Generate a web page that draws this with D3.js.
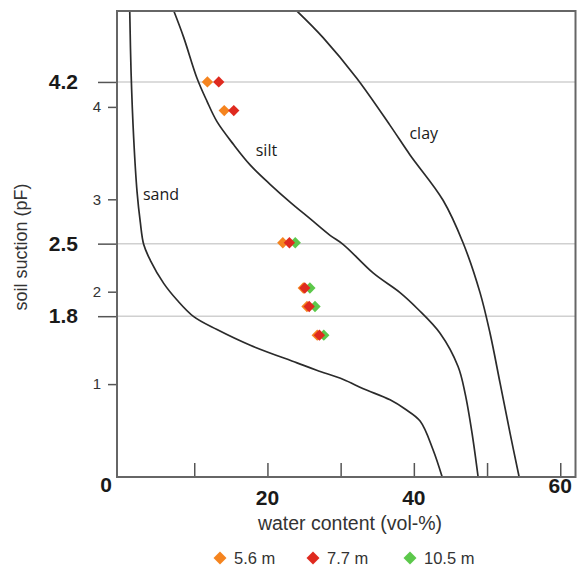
<!DOCTYPE html>
<html>
<head>
<meta charset="utf-8">
<script src="https://cdn.jsdelivr.net/npm/d3@7"></script>
<style>
  body { margin: 0; background: #fff; }
  text { font-family: "Liberation Sans", Arial, sans-serif; }
</style>
</head>
<body>
<div id="chart"></div>
<script>
// water retention curves: [water content (vol-%), suction (pF)]
var sand = [[1.19,5.04],[1.37,4.38],[1.73,3.66],[2.19,3.08],[2.62,2.76],[3.10,2.51],[4.00,2.34],
  [5.83,2.09],[7.65,1.91],[9.93,1.73],[13.11,1.59],[17.66,1.42],[24.04,1.23],[26.73,1.15],
  [30.37,1.05],[33.10,0.95],[36.75,0.83],[38.80,0.73],[40.85,0.60],[42.62,0.29],[43.85,0]];
var silt = [[7.20,5.04],[8.57,4.75],[10.38,4.31],[11.75,4.06],[13.11,3.84],[15.40,3.59],[17.66,3.37],
  [20.40,3.16],[23.09,2.97],[25.82,2.79],[28.55,2.61],[30.37,2.51],[34.47,2.20],[38.11,1.99],
  [40.57,1.81],[43.58,1.55],[46.04,1.19],[47.00,0.90],[47.95,0.47],[48.77,0]];
var clay = [[24.0,5.04],[27.6,4.75],[32.2,4.31],[36.75,3.80],[39.48,3.48],[43.99,2.99],[46.72,2.53],
  [49.04,1.99],[50.41,1.55],[51.78,1.01],[53.14,0.47],[54.37,0]];
var curveNames = ['sand', 'silt', 'clay'];

// measured points per depth
var depths = ['5.6 m', '7.7 m', '10.5 m'];
var suction = [4.27, 3.96, 2.53, 2.04, 1.84, 1.53];
var wc_56 = [11.8, 14.1, 22.1, 24.9, 25.4, 26.8];
var wc_77 = [13.35, 15.4, 23.0, 25.1, 25.7, 27.1];
var wc_105 = [null, null, 23.8, 25.8, 26.5, 27.7];

var yTicks = [1, 2, 3, 4];
var refLines = [4.27, 2.52, 1.735];
var refLabels = ['4.2', '2.5', '1.8'];
var xTicks = [10, 20, 30, 40, 50, 60];
var xLabels = [20, 40, 60];

var W = 577, H = 567;
var L = 117, R = 575.5, T = 11, B = 477;

var x = d3.scaleLinear().domain([-0.55, 62.15]).range([117, 576]);
var y = d3.scaleLinear().domain([0, 5.04]).range([476.5, 10.8]);

var svg = d3.select('#chart').append('svg').attr('width', W).attr('height', H);

svg.append('clipPath').attr('id', 'clip')
  .append('rect').attr('x', L).attr('y', T).attr('width', R - L).attr('height', B - T);

// reference lines
svg.selectAll('line.ref').data(refLines).enter().append('line').classed('ref', true)
  .attr('x1', L).attr('x2', R).attr('y1', y).attr('y2', y)
  .attr('stroke', '#d0d0d0').attr('stroke-width', 1.5);

// y axis, regular ticks
var yAxis = svg.append('g').attr('transform', 'translate(' + L + ',0)')
  .call(d3.axisLeft(y).tickValues(yTicks).tickSize(9).tickPadding(7).tickFormat(d3.format('d')));
yAxis.select('.domain').remove();
yAxis.selectAll('line').attr('stroke', '#555').attr('stroke-width', 1.5);
yAxis.selectAll('text').attr('fill', '#333').style('font-size', '15px').style('font-family', '"Liberation Sans", Arial, sans-serif');

// y axis, bold reference ticks
var yRef = svg.append('g').attr('transform', 'translate(' + L + ',0)')
  .call(d3.axisLeft(y).tickValues(refLines).tickSize(19).tickPadding(20)
    .tickFormat(function(d, i) { return refLabels[i]; }));
yRef.select('.domain').remove();
yRef.selectAll('line').attr('stroke', '#555').attr('stroke-width', 1.5);
yRef.selectAll('text').attr('fill', '#1a1a1a').style('font-size', '21px').style('font-weight', 'bold')
  .style('font-family', '"Liberation Sans", Arial, sans-serif');

// x axis, inward ticks only
var xAxis = svg.append('g').attr('transform', 'translate(0,' + B + ')')
  .call(d3.axisBottom(x).tickValues(xTicks).tickSize(-14).tickFormat(''));
xAxis.select('.domain').remove();
xAxis.selectAll('line').attr('stroke', '#555').attr('stroke-width', 1.5);

svg.selectAll('text.xlab').data(xLabels).enter().append('text').classed('xlab', true)
  .attr('x', x).attr('y', function(d) { return d == 60 ? 493 : 505; })
  .attr('text-anchor', 'middle').attr('fill', '#1a1a1a')
  .style('font-size', '21px').style('font-weight', 'bold').text(function(d) { return d; });

svg.append('text').attr('x', 106).attr('y', 491.5).attr('text-anchor', 'middle').attr('fill', '#1a1a1a')
  .style('font-size', '21px').style('font-weight', 'bold').text('0');

// retention curves
var line = d3.line().x(function(d) { return x(d[0]); }).y(function(d) { return y(d[1]); })
  .curve(d3.curveCatmullRom);
svg.append('g').attr('clip-path', 'url(#clip)').selectAll('path.curve').data([sand, silt, clay])
  .enter().append('path').classed('curve', true)
  .attr('d', line).attr('fill', 'none').attr('stroke', '#2b2b2b').attr('stroke-width', 1.7);

var labelPos = [[3.0, 2.99], [18.4, 3.47], [39.4, 3.65]];
svg.selectAll('text.cname').data(curveNames).enter().append('text').classed('cname', true)
  .attr('x', function(d, i) { return x(labelPos[i][0]); })
  .attr('y', function(d, i) { return y(labelPos[i][1]); })
  .attr('fill', '#1a1a1a').style('font-family', '"Open Sans", sans-serif').style('font-size', '16px')
  .text(function(d) { return d; });

// frame
svg.append('rect').attr('x', L).attr('y', T).attr('width', R - L).attr('height', B - T)
  .attr('fill', 'none').attr('stroke', '#666').attr('stroke-width', 2);

// markers: green under, red on top
var colors = { '5.6 m': '#f5841f', '7.7 m': '#df2a1f', '10.5 m': '#5cc84b' };
var series = [
  { name: depths[2], wc: wc_105 },
  { name: depths[0], wc: wc_56 },
  { name: depths[1], wc: wc_77 }
];
var diamond = d3.symbol().type(d3.symbolSquare).size(64);
series.forEach(function(s) {
  var pts = suction.map(function(p, i) { return [s.wc[i], p]; }).filter(function(d) { return d[0] != null; });
  svg.selectAll('path.m' + s.name.replace('.', '')).data(pts).enter().append('path')
    .attr('d', diamond)
    .attr('transform', function(d) { return 'translate(' + x(d[0]) + ',' + y(d[1]) + ') rotate(45)'; })
    .attr('fill', colors[s.name]);
});

// axis titles
svg.append('text').attr('transform', 'translate(27,247) rotate(-90)').attr('text-anchor', 'middle')
  .attr('fill', '#333').style('font-size', '18px').text('soil suction (pF)');
svg.append('text').attr('x', 350).attr('y', 530).attr('text-anchor', 'middle')
  .attr('fill', '#333').style('font-size', '19.5px').text('water content (vol-%)');

// legend
var legX = [220, 313, 410];
var leg = svg.selectAll('g.leg').data(depths).enter().append('g').classed('leg', true)
  .attr('transform', function(d, i) { return 'translate(' + legX[i] + ',558)'; });
leg.append('path').attr('d', d3.symbol().type(d3.symbolSquare).size(84)).attr('transform', 'rotate(45)')
  .attr('fill', function(d) { return colors[d]; });
leg.append('text').attr('x', 14).attr('y', 6).attr('fill', '#333').style('font-size', '16.5px')
  .text(function(d) { return d; });
</script>
</body>
</html>
